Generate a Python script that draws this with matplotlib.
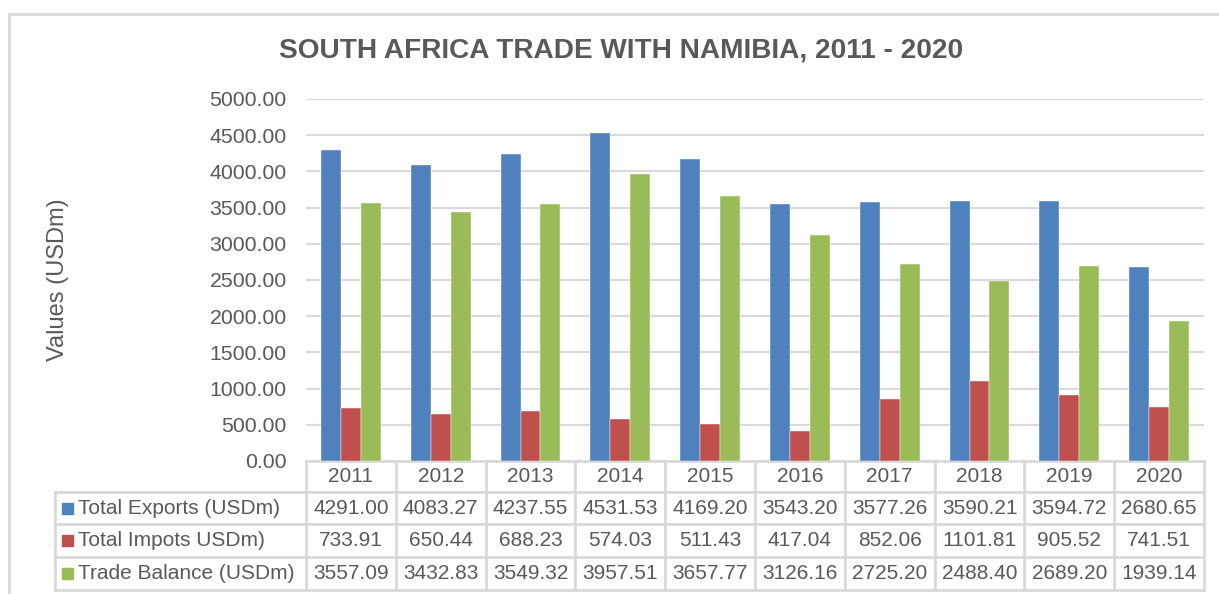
import numpy as np
import matplotlib
matplotlib.use("Agg")
import matplotlib.pyplot as plt
from matplotlib.lines import Line2D
from matplotlib.patches import Rectangle
from matplotlib import transforms

plt.rcParams['font.family'] = ['Liberation Sans', 'DejaVu Sans']

years = ['2011', '2012', '2013', '2014', '2015', '2016', '2017', '2018', '2019', '2020']
exports = [4291.00, 4083.27, 4237.55, 4531.53, 4169.20, 3543.20, 3577.26, 3590.21, 3594.72, 2680.65]
imports = [733.91, 650.44, 688.23, 574.03, 511.43, 417.04, 852.06, 1101.81, 905.52, 741.51]
balance = [3557.09, 3432.83, 3549.32, 3957.51, 3657.77, 3126.16, 2725.20, 2488.40, 2689.20, 1939.14]
series_names = ['Total Exports (USDm)', 'Total Impots USDm)', 'Trade Balance (USDm)']
colors = ['#4F81BD', '#C0504D', '#9BBB59']

W, H = 1219, 594
TXT = '#595959'
GRID = '#D9D9D9'

def fx(x):
    return x / W

def fy(y):
    return 1 - y / H

fig = plt.figure(figsize=(W / 100, H / 100), dpi=100)

# outer chart border
fig.add_artist(Line2D([fx(9), fx(9)], [fy(14), fy(600)], color=GRID, lw=2))
fig.add_artist(Line2D([fx(9), fx(1225)], [fy(14), fy(14)], color=GRID, lw=2))

ax = fig.add_axes([fx(306), fy(461), (1204 - 306) / W, (461 - 99) / H])
x = np.arange(len(years))
bw = 0.222
for i, vals in enumerate([exports, imports, balance]):
    ax.bar(x + (i - 1) * bw, vals, bw, color=colors[i], zorder=3,
           edgecolor='white', linewidth=0.3)

ax.set_xlim(-0.5, len(years) - 0.5)
ax.set_ylim(0, 5000)
ax.set_yticks(np.arange(0, 5001, 500))
ax.set_yticklabels(['%.2f' % v for v in np.arange(0, 5001, 500)])
ax.yaxis.grid(True, color=GRID, lw=1.5, zorder=0)
ax.tick_params(axis='y', length=0, pad=14, labelsize=15.3, labelcolor=TXT)
ax.tick_params(axis='x', length=0, labelbottom=False)
for s in ax.spines.values():
    s.set_visible(False)

fig.text(fx(58), fy(280), 'Values (USDm)', rotation=90, ha='center', va='center',
         fontsize=17, color=TXT)
fig.text(fx(621), fy(50), 'SOUTH AFRICA TRADE WITH NAMIBIA, 2011 - 2020',
         ha='center', va='center', fontsize=20.2, fontweight='bold', color=TXT)

# data table under the plot
trans = transforms.blended_transform_factory(ax.transData, fig.transFigure)
rows_y = [461, 492, 524, 557, 590]
left = 55
for k, yy in enumerate(rows_y):
    if k > 0:
        fig.add_artist(Line2D([fx(left), fx(306)], [fy(yy), fy(yy)], color=GRID, lw=2))
    ax.add_artist(Line2D([-0.5, len(years) - 0.5], [fy(yy), fy(yy)], color=GRID, lw=2,
                         transform=trans, clip_on=False))
for j in range(len(years) + 1):
    ax.add_artist(Line2D([j - 0.5, j - 0.5], [fy(461), fy(590)], color=GRID, lw=2,
                         transform=trans, clip_on=False))
fig.add_artist(Line2D([fx(left), fx(left)], [fy(492), fy(590)], color=GRID, lw=2))

for j, yr in enumerate(years):
    ax.text(j, fy((461 + 492) / 2), yr, transform=trans, ha='center', va='center',
            fontsize=15, color=TXT)
for i, vals in enumerate([exports, imports, balance]):
    yc = fy((rows_y[i + 1] + rows_y[i + 2]) / 2)
    fig.add_artist(Rectangle((fx(62), yc - 5.5 / H), 11 / W, 11 / H, color=colors[i]))
    fig.text(fx(78), yc, series_names[i], ha='left', va='center', fontsize=15, color=TXT)
    for j, v in enumerate(vals):
        ax.text(j, yc, '%.2f' % v, transform=trans, ha='center', va='center',
                fontsize=15, color=TXT)

fig.savefig('out.png', dpi=100)
